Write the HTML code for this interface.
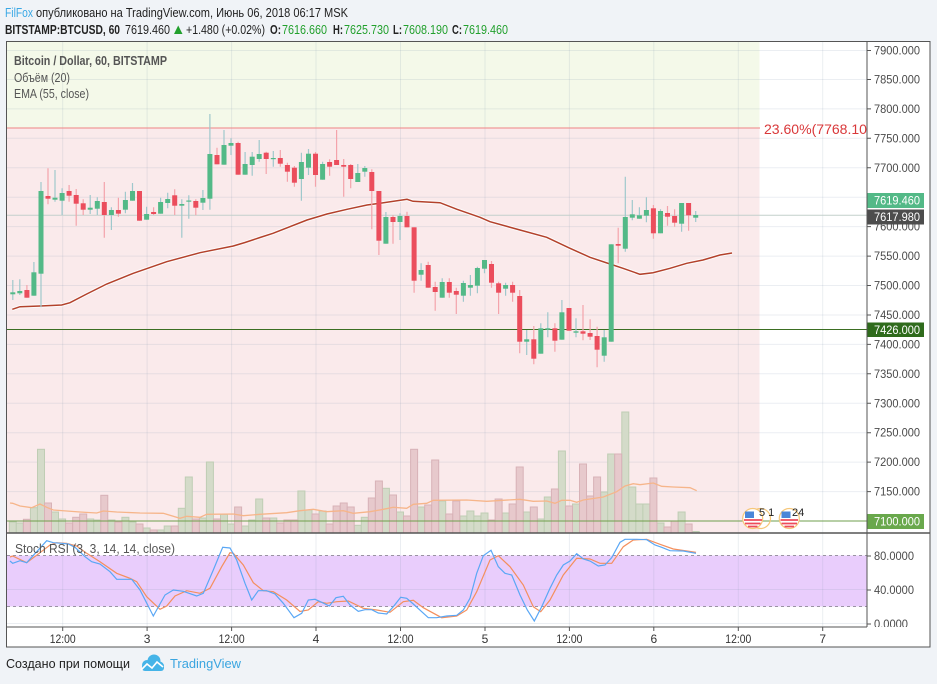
<!DOCTYPE html>
<html><head><meta charset="utf-8"><style>
html,body{margin:0;padding:0;background:#f0f3f7;}
svg{display:block;font-family:"Liberation Sans","Noto Sans CJK JP",sans-serif;}
</style></head><body>
<svg width="937" height="684" viewBox="0 0 937 684" xmlns="http://www.w3.org/2000/svg">
<rect width="937" height="684" fill="#f0f3f7"/>
<!-- header -->
<text x="5" y="17" font-size="12.5" fill="#3aa8e5" textLength="28" lengthAdjust="spacingAndGlyphs">FilFox</text>
<text x="36" y="17" font-size="12.5" fill="#222" textLength="312" lengthAdjust="spacingAndGlyphs">опубликовано на TradingView.com, Июнь 06, 2018 06:17 MSK</text>
<g font-size="12.5" fill="#222">
<text x="5" y="34" font-weight="bold" textLength="115" lengthAdjust="spacingAndGlyphs">BITSTAMP:BTCUSD, 60</text>
<text x="125" y="34" textLength="45" lengthAdjust="spacingAndGlyphs">7619.460</text>
<polygon points="174,34 182.5,34 178.2,25.5" fill="#22a02d"/>
<text x="186" y="34" textLength="79" lengthAdjust="spacingAndGlyphs">+1.480 (+0.02%)</text>
<text x="270" y="34" font-weight="bold" textLength="11" lengthAdjust="spacingAndGlyphs">O:</text>
<text x="282" y="34" fill="#22a02d" textLength="45" lengthAdjust="spacingAndGlyphs">7616.660</text>
<text x="333" y="34" font-weight="bold" textLength="10" lengthAdjust="spacingAndGlyphs">H:</text>
<text x="344" y="34" fill="#22a02d" textLength="45" lengthAdjust="spacingAndGlyphs">7625.730</text>
<text x="393" y="34" font-weight="bold" textLength="9" lengthAdjust="spacingAndGlyphs">L:</text>
<text x="403" y="34" fill="#22a02d" textLength="45" lengthAdjust="spacingAndGlyphs">7608.190</text>
<text x="452" y="34" font-weight="bold" textLength="10" lengthAdjust="spacingAndGlyphs">C:</text>
<text x="463" y="34" fill="#22a02d" textLength="45" lengthAdjust="spacingAndGlyphs">7619.460</text>
</g>

<!-- chart box -->
<rect x="6.5" y="41.5" width="923.5" height="605.5" fill="#ffffff"/>
<rect x="7" y="42" width="752.5" height="86" fill="#f4f9e9"/>
<rect x="7" y="128" width="752.5" height="405" fill="#faeaeb"/>
<!-- RSI band -->
<rect x="7" y="555.5" width="860" height="51" fill="#e9cdfc"/>

<!-- grid -->
<g stroke="#8595ad" stroke-opacity="0.16" stroke-width="1">
<path d="M7 50.5H867M7 79.5H867M7 108.9H867M7 138.3H867M7 167.8H867M7 197.2H867M7 226.6H867M7 256.1H867M7 285.5H867M7 315H867M7 344.4H867M7 373.8H867M7 403.3H867M7 432.7H867M7 462.1H867M7 491.6H867"/>
<path d="M7 589.5H867M7 623.5H867"/>
<path d="M62.7 42V627M147.1 42V627M231.6 42V627M316 42V627M400.5 42V627M485 42V627M569.4 42V627M653.8 42V627M738.3 42V627M822.7 42V627"/>
</g>
<g stroke="#9a93a3" stroke-width="1" stroke-dasharray="3,3">
<path d="M7 555.5H867M7 606.5H867"/>
</g>

<!-- volume bars -->
<g fill="#d4dbc9" stroke="#bfcdb4" stroke-width="1">
<rect x="9.3" y="522" width="7" height="11"/><rect x="16.3" y="523" width="7" height="10"/><rect x="30.4" y="507.7" width="7" height="25.3"/><rect x="37.5" y="449.3" width="7" height="83.7"/><rect x="51.5" y="512" width="7" height="21"/><rect x="58.6" y="519" width="7" height="14"/><rect x="86.7" y="519" width="7" height="14"/><rect x="93.8" y="520" width="7" height="13"/><rect x="107.9" y="520" width="7" height="13"/><rect x="121.9" y="517.3" width="7" height="15.7"/><rect x="129" y="522" width="7" height="11"/><rect x="143.1" y="528" width="7" height="5"/><rect x="157.1" y="530" width="7" height="3"/><rect x="164.2" y="526" width="7" height="7"/><rect x="178.3" y="508.3" width="7" height="24.7"/><rect x="185.3" y="477" width="7" height="56"/><rect x="199.4" y="518" width="7" height="15"/><rect x="206.4" y="462" width="7" height="71"/><rect x="220.5" y="514.3" width="7" height="18.7"/><rect x="227.5" y="524" width="7" height="9"/><rect x="241.6" y="526" width="7" height="7"/><rect x="248.7" y="520" width="7" height="13"/><rect x="255.7" y="499" width="7" height="34"/><rect x="269.8" y="518" width="7" height="15"/><rect x="297.9" y="491" width="7" height="42"/><rect x="305" y="510" width="7" height="23"/><rect x="319.1" y="511" width="7" height="22"/><rect x="354.3" y="525.3" width="7" height="7.7"/><rect x="361.3" y="517.3" width="7" height="15.7"/><rect x="382.4" y="488.3" width="7" height="44.7"/><rect x="396.5" y="512" width="7" height="21"/><rect x="417.6" y="507" width="7" height="26"/><rect x="438.7" y="501" width="7" height="32"/><rect x="459.9" y="516" width="7" height="17"/><rect x="466.9" y="511" width="7" height="22"/><rect x="473.9" y="516" width="7" height="17"/><rect x="481" y="513" width="7" height="20"/><rect x="502.1" y="513" width="7" height="20"/><rect x="523.2" y="512" width="7" height="21"/><rect x="537.3" y="519" width="7" height="14"/><rect x="544.3" y="497" width="7" height="36"/><rect x="558.4" y="451" width="7" height="82"/><rect x="572.5" y="504" width="7" height="29"/><rect x="600.7" y="492" width="7" height="41"/><rect x="607.7" y="454" width="7" height="79"/><rect x="621.8" y="412" width="7" height="121"/><rect x="628.8" y="487" width="7" height="46"/><rect x="635.9" y="504" width="7" height="29"/><rect x="642.9" y="504" width="7" height="29"/><rect x="657" y="523" width="7" height="10"/><rect x="678.1" y="512" width="7" height="21"/><rect x="692.2" y="531.5" width="7" height="1.5"/>
</g>
<g fill="#e7c9cc" stroke="#d8b2b7" stroke-width="1">
<rect x="23.4" y="519.3" width="7" height="13.7"/><rect x="44.5" y="503" width="7" height="30"/><rect x="65.6" y="523" width="7" height="10"/><rect x="72.7" y="517.3" width="7" height="15.7"/><rect x="79.7" y="514" width="7" height="19"/><rect x="100.8" y="495.3" width="7" height="37.7"/><rect x="114.9" y="522" width="7" height="11"/><rect x="136" y="524" width="7" height="9"/><rect x="150.1" y="530" width="7" height="3"/><rect x="171.2" y="526" width="7" height="7"/><rect x="192.3" y="519" width="7" height="14"/><rect x="213.5" y="519" width="7" height="14"/><rect x="234.6" y="507" width="7" height="26"/><rect x="262.7" y="518" width="7" height="15"/><rect x="276.8" y="523" width="7" height="10"/><rect x="283.9" y="520" width="7" height="13"/><rect x="290.9" y="520" width="7" height="13"/><rect x="312" y="514" width="7" height="19"/><rect x="326.1" y="524" width="7" height="9"/><rect x="333.1" y="506" width="7" height="27"/><rect x="340.2" y="503" width="7" height="30"/><rect x="347.2" y="507" width="7" height="26"/><rect x="368.3" y="498" width="7" height="35"/><rect x="375.4" y="481" width="7" height="52"/><rect x="389.5" y="495" width="7" height="38"/><rect x="403.5" y="516" width="7" height="17"/><rect x="410.6" y="449.3" width="7" height="83.7"/><rect x="424.7" y="505" width="7" height="28"/><rect x="431.7" y="460" width="7" height="73"/><rect x="445.8" y="514" width="7" height="19"/><rect x="452.8" y="501" width="7" height="32"/><rect x="488" y="520" width="7" height="13"/><rect x="495.1" y="499" width="7" height="34"/><rect x="509.1" y="504" width="7" height="29"/><rect x="516.2" y="467" width="7" height="66"/><rect x="530.3" y="507" width="7" height="26"/><rect x="551.4" y="489" width="7" height="44"/><rect x="565.5" y="506" width="7" height="27"/><rect x="579.5" y="464" width="7" height="69"/><rect x="586.6" y="496" width="7" height="37"/><rect x="593.6" y="477" width="7" height="56"/><rect x="614.7" y="454" width="7" height="79"/><rect x="649.9" y="478" width="7" height="55"/><rect x="664" y="527" width="7" height="6"/><rect x="671.1" y="521" width="7" height="12"/><rect x="685.1" y="524" width="7" height="9"/>
</g>
<!-- volume MA -->
<polyline fill="none" stroke="#f6b58a" stroke-width="1.3" points="10,503 12.7,503.3 20,506 31.7,507.7 40,504 46.7,507.3 53.3,510 66.7,511 80,512 96.7,513 103.3,511 116.7,512 140,513 163.3,513.3 180,518.3 186.7,516.3 200,517.3 206.7,514.3 233.3,514 243.3,515.7 260,514.3 286.7,512.7 300,510.7 313.3,509.3 326.7,511.7 343.3,510.7 353.3,513.3 370,511.7 383.3,509.3 393.3,507.3 406.7,508.3 413.3,504.3 426.7,503.3 433.3,500.3 466.7,500 486.7,501.3 520,499.3 533.3,501.3 546.7,501 555,503.3 561.7,500.3 570,500.3 576.7,502.3 583.3,500 603.3,497 616.7,491.7 625,486 633.3,483.7 640,484.7 653.3,483 661.7,486.3 673.3,487 690,487.7 696.7,490.7"/>

<!-- horizontal lines -->
<line x1="7" y1="128" x2="760" y2="128" stroke="#ee8484" stroke-width="1"/>
<line x1="7" y1="215.3" x2="867" y2="215.3" stroke="#c3d0cc" stroke-width="1"/>
<line x1="7" y1="329.5" x2="867" y2="329.5" stroke="#3b6e22" stroke-width="1"/>
<line x1="7" y1="521" x2="867" y2="521" stroke="#6f9f4c" stroke-width="1"/>

<!-- EMA -->
<polyline fill="none" stroke="#ffffff" stroke-opacity="0.8" stroke-width="3.5" points="12.3,309.3 20,306.7 40,306 61.7,305 70,302.7 86.7,294 106.7,284 133.3,273.3 166.7,261.7 200,252.7 233.3,246 245,242.5 260,237.5 273,233.3 307,220 327,214 347,209.3 367,205 380,203.3 407,199.3 413,201.3 440,202.7 457,209.3 480,217.3 490,221.7 520,230 546.7,237.3 570,248.3 590,257.3 610,264 623,268.3 640,274.3 653,272.7 670,268.3 686.7,263.3 703,260 720,255 732,253"/>
<polyline fill="none" stroke="#b3412b" stroke-width="1.5" points="12.3,309.3 20,306.7 40,306 61.7,305 70,302.7 86.7,294 106.7,284 133.3,273.3 166.7,261.7 200,252.7 233.3,246 245,242.5 260,237.5 273,233.3 307,220 327,214 347,209.3 367,205 380,203.3 407,199.3 413,201.3 440,202.7 457,209.3 480,217.3 490,221.7 520,230 546.7,237.3 570,248.3 590,257.3 610,264 623,268.3 640,274.3 653,272.7 670,268.3 686.7,263.3 703,260 720,255 732,253"/>

<!-- candle wicks -->
<path fill="none" stroke="#9fc8cc" stroke-width="1.2" d="M12.8 280V300M19.8 279.3V295M33.9 262V295.7M41 182V307.3M55 170V201.7M62.1 188.3V215M90.2 195V214M97.3 197.3V215M111.4 207.3V230M125.4 191.7V213.3M132.5 183V200.7M146.6 206.7V219.7M160.6 197.7V213.7M167.7 192.7V208.3M181.8 199.3V237.7M188.8 195.3V218.7M202.9 190V210M209.9 114V209.7M224 130V164.7M231 138.3V155M245.1 152V174.7M252.2 152V175.7M259.2 140V161.7M273.3 151V166.7M301.4 152.7V200.7M308.5 149V175M322.6 161.7V179.7M357.8 164V182M364.8 166V176.7M385.9 212V243.7M400 213.3V240M421.1 263.3V280.7M442.2 278.3V297.7M463.4 280.7V301.7M470.4 275V295.7M477.4 266.7V293.3M484.5 260V273.3M505.6 282.7V295.7M526.7 330V355M540.8 323.3V353.7M547.8 312.3V337.3M561.9 300V339.7M576 318.3V337.3M604.2 330V361.7M611.2 244.3V341.7M625.3 176.7V251.7M632.3 200V220.3M639.4 207.3V218.7M646.4 197.3V222.3M660.5 209.3V233.3M681.6 203V231.7M695.7 211V222"/>
<path fill="none" stroke="#f4a3ab" stroke-width="1.2" d="M26.9 285V297.7M48 168.3V204.3M69.1 185V201.7M76.2 189V225.7M83.2 199.3V215M104.3 182V237.7M118.4 197.7V216.7M139.5 191V220.7M153.6 207.3V215M174.7 189.3V215M195.8 199.3V215.3M217 147.7V164.3M238.1 141.7V174.7M266.2 151.7V174M280.3 150V166.7M287.4 162.7V181.7M294.4 166V186.7M315.5 152V186.7M329.6 159.3V175.7M336.6 130V165M343.7 159V196.7M350.7 164V188.3M371.8 169.3V229.3M378.9 191V255M393 215.3V243.7M407 211.7V227.3M414.1 227.3V292.7M428.2 261.7V287.7M435.2 281.7V310.7M449.3 278.3V297.7M456.3 287.7V314M491.5 261V287.7M498.6 281.7V314M512.6 281.7V301.7M519.7 290V353.3M533.8 326V364.3M554.9 323.3V351.7M569 308V330.7M583 305V340.3M590.1 319.3V340M597.1 326.7V367.3M618.2 227.7V263.3M653.4 205V238.7M667.5 206V225.7M674.6 209.3V226.7M688.6 203V230.7"/>
<!-- candle bodies -->
<g fill="#53b987">
<rect x="10.3" y="292.3" width="5" height="2"/><rect x="17.3" y="291" width="5" height="2.3"/><rect x="31.4" y="272.3" width="5" height="23.4"/><rect x="38.5" y="191" width="5" height="82.7"/><rect x="52.5" y="197.7" width="5" height="2"/><rect x="59.6" y="193" width="5" height="7.7"/><rect x="87.7" y="207.7" width="5" height="2"/><rect x="94.8" y="201" width="5" height="7.7"/><rect x="108.9" y="210" width="5" height="5"/><rect x="122.9" y="200" width="5" height="9.7"/><rect x="130" y="191" width="5" height="9.7"/><rect x="144.1" y="214" width="5" height="5.7"/><rect x="158.1" y="202" width="5" height="11.7"/><rect x="165.2" y="199" width="5" height="4"/><rect x="179.3" y="204" width="5" height="1.7"/><rect x="186.3" y="200.5" width="5" height="1.2"/><rect x="200.4" y="198" width="5" height="4.7"/><rect x="207.4" y="154" width="5" height="44.7"/><rect x="221.5" y="145" width="5" height="19.7"/><rect x="228.5" y="143" width="5" height="2.7"/><rect x="242.6" y="164" width="5" height="10.7"/><rect x="249.7" y="156.7" width="5" height="8.3"/><rect x="256.7" y="154" width="5" height="5"/><rect x="270.8" y="158" width="5" height="1.2"/><rect x="298.9" y="162" width="5" height="17"/><rect x="306" y="153.7" width="5" height="14"/><rect x="320.1" y="164" width="5" height="15.7"/><rect x="355.3" y="173" width="5" height="9"/><rect x="362.3" y="168" width="5" height="3.7"/><rect x="383.4" y="217" width="5" height="26.7"/><rect x="397.5" y="216" width="5" height="6"/><rect x="418.6" y="270" width="5" height="4.7"/><rect x="439.7" y="282" width="5" height="15.7"/><rect x="460.9" y="283" width="5" height="12.7"/><rect x="467.9" y="285" width="5" height="2.7"/><rect x="474.9" y="268" width="5" height="17.7"/><rect x="482" y="260" width="5" height="8.7"/><rect x="503.1" y="285" width="5" height="3.7"/><rect x="524.2" y="339.3" width="5" height="2.4"/><rect x="538.3" y="328.3" width="5" height="25.4"/><rect x="545.3" y="328.3" width="5" height="1.4"/><rect x="559.4" y="312.3" width="5" height="27.4"/><rect x="573.5" y="331.3" width="5" height="1.4"/><rect x="601.7" y="337.3" width="5" height="18.4"/><rect x="608.7" y="244.3" width="5" height="97.4"/><rect x="622.8" y="217" width="5" height="31.7"/><rect x="629.8" y="214.3" width="5" height="3.4"/><rect x="636.9" y="215.3" width="5" height="3.4"/><rect x="643.9" y="210" width="5" height="5.7"/><rect x="658" y="211" width="5" height="22.3"/><rect x="679.1" y="203" width="5" height="20.7"/><rect x="693.2" y="215" width="5" height="2.7"/>
</g>
<g fill="#eb4d5c">
<rect x="24.4" y="290" width="5" height="7.7"/><rect x="45.5" y="196" width="5" height="2.7"/><rect x="66.6" y="191" width="5" height="4.7"/><rect x="73.7" y="195" width="5" height="8.7"/><rect x="80.7" y="203.3" width="5" height="6.4"/><rect x="101.8" y="202" width="5" height="13"/><rect x="115.9" y="210" width="5" height="3.7"/><rect x="137" y="191" width="5" height="29.7"/><rect x="151.1" y="212" width="5" height="2"/><rect x="172.2" y="195.3" width="5" height="10.4"/><rect x="193.3" y="201" width="5" height="6.7"/><rect x="214.5" y="155" width="5" height="9.3"/><rect x="235.6" y="143" width="5" height="31.7"/><rect x="263.7" y="152.7" width="5" height="6.3"/><rect x="277.8" y="158" width="5" height="5.7"/><rect x="284.9" y="165" width="5" height="6.7"/><rect x="291.9" y="167.7" width="5" height="15"/><rect x="313" y="153.7" width="5" height="21.3"/><rect x="327.1" y="162" width="5" height="4.7"/><rect x="334.1" y="160" width="5" height="5"/><rect x="341.2" y="165" width="5" height="1.7"/><rect x="348.2" y="165" width="5" height="14"/><rect x="369.3" y="172" width="5" height="19"/><rect x="376.4" y="191" width="5" height="49.7"/><rect x="390.5" y="217" width="5" height="5"/><rect x="404.5" y="216" width="5" height="11.3"/><rect x="411.6" y="227.3" width="5" height="53.4"/><rect x="425.7" y="265" width="5" height="22.7"/><rect x="432.7" y="287" width="5" height="5"/><rect x="446.8" y="282" width="5" height="10.7"/><rect x="453.8" y="291" width="5" height="3.7"/><rect x="489" y="264" width="5" height="18.7"/><rect x="496.1" y="283.3" width="5" height="9.4"/><rect x="510.1" y="285" width="5" height="7.7"/><rect x="517.2" y="296" width="5" height="45.7"/><rect x="531.3" y="339.3" width="5" height="19.4"/><rect x="552.4" y="328.3" width="5" height="12.4"/><rect x="566.5" y="308" width="5" height="22.7"/><rect x="580.5" y="331.3" width="5" height="2.4"/><rect x="587.6" y="333" width="5" height="3.7"/><rect x="594.6" y="336" width="5" height="13.7"/><rect x="615.7" y="244" width="5" height="1.7"/><rect x="650.9" y="208.3" width="5" height="25"/><rect x="665" y="213" width="5" height="3.7"/><rect x="672.1" y="216" width="5" height="6.7"/><rect x="686.1" y="203" width="5" height="12.3"/>
</g>

<!-- fib text -->
<text x="764" y="134" font-size="14" fill="#d9383a" textLength="103" lengthAdjust="spacingAndGlyphs">23.60%(7768.10</text>

<!-- event icons -->
<g>
<circle cx="760.5" cy="518.5" r="10" fill="none" stroke="#f6c77a" stroke-width="1.2"/>
<circle cx="752.7" cy="518.5" r="10" fill="#ffffff" stroke="#f6c77a" stroke-width="1.2"/>
<rect x="745" y="511.5" width="9" height="6.5" fill="#4a86d8"/>
<path d="M744 520H762M745 523.5H760.5M748 526.5H757.5" stroke="#ee4b5a" stroke-width="1.8"/>
<text x="759" y="516" font-size="11" fill="#222">5 1</text>
<circle cx="789.3" cy="518.5" r="10" fill="#ffffff" stroke="#f6c77a" stroke-width="1.2"/>
<rect x="781.5" y="511.5" width="9" height="6.5" fill="#4a86d8"/>
<path d="M780.5 520H798M781.5 523.5H797M784.5 526.5H794" stroke="#ee4b5a" stroke-width="1.8"/>
<text x="792" y="516" font-size="11" fill="#222">24</text>
</g>

<!-- RSI lines -->
<polyline fill="none" stroke="#f48f5d" stroke-width="1.2" points="10,557 12.7,556 26.7,562.7 40,552.7 50,545 56.7,542.7 66.7,543.3 76.7,546 86.7,553.3 100,561.7 116.7,573.3 130,578.3 136.7,581.7 146.7,596.7 160,609.3 166.7,606 175,596 186.7,590.7 200,593.3 210,588.3 221.7,566.7 230,552.7 233.3,553.3 243.3,565 253.3,582.7 263.3,590.7 273.3,591.7 286.7,600 300,611.5 308.3,610 318.3,601.7 326.7,603.3 336.7,601.7 348.3,601 363.3,608.3 376.7,610 390,612.3 403.3,601.7 413.3,600.3 423.3,607.7 441.7,617.7 456.7,616 466.7,610 476.7,591.7 490,560 498.3,555.7 510,566.7 523.3,585 533.3,606.7 540.7,611.7 550,600 563.3,575 576.7,558.3 590,559 600,563.3 611.7,563.3 623.3,546.7 633.3,540 646.7,539.3 660,544.3 673.3,549 696,552.3"/>
<polyline fill="none" stroke="#5aa7f5" stroke-width="1.2" points="10,561 12.7,563.3 20,560.7 26.7,562.7 36.7,551.7 46.7,540.7 53.3,542.7 61.7,543.3 68.3,544 75,547.3 85,556.7 91.7,561.7 100,564 110,571.7 116.7,579.3 131.7,579.3 140,590 153.3,616 165,595 173.3,590 183.3,591.3 196.7,596 203.3,593.3 213.3,570 222.7,547.3 230,548 236.7,560 245,583.3 251.7,600 258.3,590.7 266.7,590.7 275,594 283.3,603.3 294,617.7 301.7,613.3 308.3,600 315,599.3 321.7,602.3 329.3,606 336,597.7 343.3,596.3 350,605 358.3,611.3 365,609.7 371.7,609.7 378.3,613 386.7,614 393.3,606.7 400.7,597.3 406.7,598.3 413.3,604 421.7,611.7 428.3,617.7 436.7,617.7 446.7,616 456.7,615.3 463.3,610 470,598.3 476.7,573.3 483.3,555.7 491,550.3 498.3,566.7 505,573.3 511.7,575 520,595 527.3,610 534.3,621 541.7,606.7 550,588.3 556.7,575 563.3,565 570,561 576.7,553.7 583.3,559 590,561 598.3,566 605,565 611.7,557.7 620,542.3 625,539.3 636.7,539.3 646.7,539.7 655,545 661.7,547.3 670,550.7 683.3,551 696,553.3"/>

<!-- legends -->
<text x="14" y="65" font-size="13" font-weight="bold" fill="#555" textLength="153" lengthAdjust="spacingAndGlyphs">Bitcoin / Dollar, 60, BITSTAMP</text>
<text x="14" y="82" font-size="13" fill="#555" textLength="56" lengthAdjust="spacingAndGlyphs">Объём (20)</text>
<text x="14" y="98" font-size="13" fill="#555" textLength="75" lengthAdjust="spacingAndGlyphs">EMA (55, close)</text>
<text x="15" y="553" font-size="13" fill="#555" textLength="160" lengthAdjust="spacingAndGlyphs">Stoch RSI (3, 3, 14, 14, close)</text>

<!-- axis area backgrounds -->
<rect x="867.5" y="42" width="62" height="585" fill="#ffffff"/>
<!-- price axis ticks & labels -->
<g stroke="#555" stroke-width="1">
<path d="M867 50.5H871M867 79.5H871M867 108.9H871M867 138.3H871M867 167.8H871M867 197.2H871M867 226.6H871M867 256.1H871M867 285.5H871M867 315H871M867 344.4H871M867 373.8H871M867 403.3H871M867 432.7H871M867 462.1H871M867 491.6H871M867 521H871M867 556H871M867 590H871M867 624H871"/>
<path d="M62.7 627V631M147.1 627V631M231.6 627V631M316 627V631M400.5 627V631M485 627V631M569.4 627V631M653.8 627V631M738.3 627V631M822.7 627V631"/>
</g>
<g font-size="11.5" fill="#4a4a4a">
<text x="874" y="54.5" textLength="46" lengthAdjust="spacingAndGlyphs">7900.000</text>
<text x="874" y="83.5" textLength="46" lengthAdjust="spacingAndGlyphs">7850.000</text>
<text x="874" y="113" textLength="46" lengthAdjust="spacingAndGlyphs">7800.000</text>
<text x="874" y="142.3" textLength="46" lengthAdjust="spacingAndGlyphs">7750.000</text>
<text x="874" y="171.8" textLength="46" lengthAdjust="spacingAndGlyphs">7700.000</text>
<text x="874" y="230.6" textLength="46" lengthAdjust="spacingAndGlyphs">7600.000</text>
<text x="874" y="260.1" textLength="46" lengthAdjust="spacingAndGlyphs">7550.000</text>
<text x="874" y="289.5" textLength="46" lengthAdjust="spacingAndGlyphs">7500.000</text>
<text x="874" y="319" textLength="46" lengthAdjust="spacingAndGlyphs">7450.000</text>
<text x="874" y="348.4" textLength="46" lengthAdjust="spacingAndGlyphs">7400.000</text>
<text x="874" y="377.8" textLength="46" lengthAdjust="spacingAndGlyphs">7350.000</text>
<text x="874" y="407.3" textLength="46" lengthAdjust="spacingAndGlyphs">7300.000</text>
<text x="874" y="436.7" textLength="46" lengthAdjust="spacingAndGlyphs">7250.000</text>
<text x="874" y="466.1" textLength="46" lengthAdjust="spacingAndGlyphs">7200.000</text>
<text x="874" y="495.6" textLength="46" lengthAdjust="spacingAndGlyphs">7150.000</text>
<text x="874" y="560" textLength="40" lengthAdjust="spacingAndGlyphs">80.0000</text>
<text x="874" y="594" textLength="40" lengthAdjust="spacingAndGlyphs">40.0000</text>
</g>
<svg x="867" y="533" width="63" height="94" overflow="hidden"><text x="7" y="95" font-size="11.5" fill="#4a4a4a" textLength="34" lengthAdjust="spacingAndGlyphs">0.0000</text></svg>
<!-- price boxes -->
<rect x="867" y="193" width="57" height="15" fill="#53b987"/>
<text x="874" y="204.5" font-size="11.5" fill="#ffffff" textLength="46" lengthAdjust="spacingAndGlyphs">7619.460</text>
<rect x="867" y="209.5" width="57" height="15" fill="#4d4d4d"/>
<text x="874" y="221" font-size="11.5" fill="#ffffff" textLength="46" lengthAdjust="spacingAndGlyphs">7617.980</text>
<rect x="867" y="322.5" width="57" height="14.5" fill="#2f6b1c"/>
<text x="874" y="333.8" font-size="11.5" fill="#ffffff" textLength="46" lengthAdjust="spacingAndGlyphs">7426.000</text>
<rect x="867" y="514" width="57" height="15" fill="#69a84c"/>
<text x="874" y="525.5" font-size="11.5" fill="#ffffff" textLength="46" lengthAdjust="spacingAndGlyphs">7100.000</text>

<!-- time labels -->
<g font-size="12" fill="#333" text-anchor="middle">
<text x="62.7" y="643" textLength="26" lengthAdjust="spacingAndGlyphs">12:00</text>
<text x="147.1" y="643">3</text>
<text x="231.6" y="643" textLength="26" lengthAdjust="spacingAndGlyphs">12:00</text>
<text x="316" y="643">4</text>
<text x="400.5" y="643" textLength="26" lengthAdjust="spacingAndGlyphs">12:00</text>
<text x="485" y="643">5</text>
<text x="569.4" y="643" textLength="26" lengthAdjust="spacingAndGlyphs">12:00</text>
<text x="653.8" y="643">6</text>
<text x="738.3" y="643" textLength="26" lengthAdjust="spacingAndGlyphs">12:00</text>
<text x="822.7" y="643">7</text>
</g>

<!-- borders -->
<g stroke="#555" stroke-width="1" fill="none">
<rect x="6.5" y="41.5" width="923.5" height="605.5"/>
<line x1="867" y1="42" x2="867" y2="627"/>
<line x1="7" y1="627" x2="867" y2="627"/>
<line x1="7" y1="533" x2="930" y2="533" stroke-width="1.5"/>
</g>

<!-- footer -->
<text x="6" y="668" font-size="13" fill="#222" textLength="124" lengthAdjust="spacingAndGlyphs">Создано при помощи</text>
<g>
<circle cx="147" cy="665" r="5" fill="#45b4e8"/>
<circle cx="154" cy="661" r="6.5" fill="#45b4e8"/>
<circle cx="159.5" cy="666" r="4.5" fill="#45b4e8"/>
<rect x="142" y="664" width="22" height="7" rx="3" fill="#45b4e8"/>
<polyline points="141,670 147,664 152,668 157,662 163,667" fill="none" stroke="#ffffff" stroke-width="1.6"/>
</g>
<text x="170" y="668" font-size="13" fill="#3aa5e0" textLength="71" lengthAdjust="spacingAndGlyphs">TradingView</text>
</svg>
</body></html>
